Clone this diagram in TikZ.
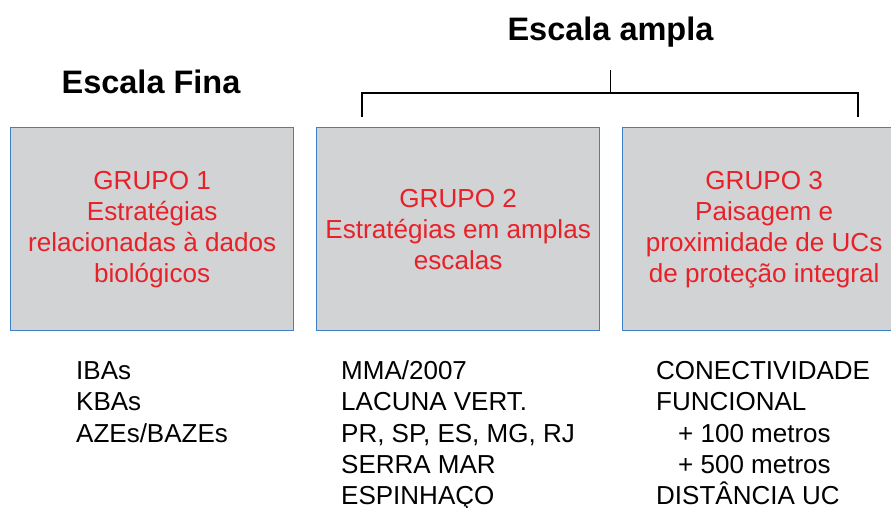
\documentclass[tikz,border=0pt]{standalone}
\usepackage{fontspec}
\setmainfont{Liberation Sans}
\definecolor{boxfill}{RGB}{210,211,213}
\definecolor{boxline}{RGB}{62,128,200}
\definecolor{grpred}{RGB}{232,32,40}
\tikzset{
  grpbox/.style={draw=boxline, line width=1.3pt, fill=boxfill, minimum width=283pt, minimum height=203pt, inner sep=0pt, anchor=north west},
  grptext/.style={text=grpred, align=center, font=\fontsize{26.1}{31}\selectfont, inner sep=0pt},
  lst/.style={anchor=base west, inner sep=0pt, font=\fontsize{26}{30}\selectfont},
  ttl/.style={anchor=base, inner sep=0pt, font=\fontsize{32.5}{38}\selectfont\bfseries},
  brk/.style={line width=1.8pt, black}
}
\begin{document}
\begin{tikzpicture}[x=1pt,y=-1pt]
\useasboundingbox (0,0) rectangle (891,507);
% titles
\node[ttl] (tfina) at (151,93) {Escala Fina};
\node[ttl] (tampla) at (610.5,40) {Escala ampla};
% boxes
\node[grpbox] (g1) at (10,127) {};
\node[grpbox] (g2) at (316,127) {};
\node[grpbox] (g3) at (622,127) {};
\node[grptext] (t1) at (g1.center) {GRUPO 1\\Estratégias\\relacionadas à dados\\biológicos};
\node[grptext] (t2) at (g2.center) {GRUPO 2\\Estratégias em amplas\\escalas};
\node[grptext] (t3) at (g3.center) {GRUPO 3\\Paisagem e\\proximidade de UCs\\de proteção integral};
% bracket
\coordinate (bl) at (362,117);
\coordinate (br) at (858,117);
\coordinate (bm) at (610.5,93);
\coordinate (bt) at (610.5,70);
\draw[brk] (bl) -- (362,93) -- (858,93) -- (br);
\draw[brk] (bt) -- (bm);
% lists
\node[lst] (a1) at (76,379) {IBAs};
\node[lst] (a2) at (76,410.5) {KBAs};
\node[lst] (a3) at (76,442) {AZEs/BAZEs};
\node[lst] (b1) at (341,379) {MMA/2007};
\node[lst] (b2) at (341,410.5) {LACUNA VERT.};
\node[lst] (b3) at (341,442) {PR, SP, ES, MG, RJ};
\node[lst] (b4) at (341,473.5) {SERRA MAR};
\node[lst] (b5) at (341,504) {ESPINHAÇO};
\node[lst] (c1) at (656,379) {CONECTIVIDADE};
\node[lst] (c2) at (656,410.5) {FUNCIONAL};
\node[lst] (c3) at (678,442) {+ 100 metros};
\node[lst] (c4) at (678,473.5) {+ 500 metros};
\node[lst] (c5) at (656,504) {DISTÂNCIA UC};
\end{tikzpicture}
\end{document}
